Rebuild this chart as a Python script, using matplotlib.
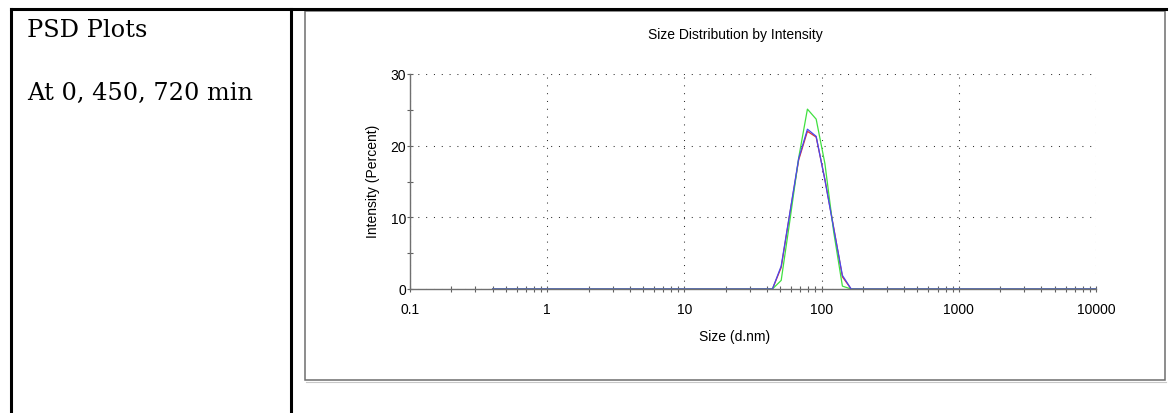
import matplotlib
matplotlib.use("Agg")
import matplotlib.pyplot as plt
from matplotlib.lines import Line2D
from matplotlib.patches import Rectangle
from matplotlib.ticker import LogLocator, FixedLocator, NullFormatter, FuncFormatter

# Zetasizer size classes (d.nm)
sizes = [
    0.4000, 0.4632, 0.5365, 0.6213, 0.7195, 0.8332, 0.9649,
    1.117, 1.294, 1.499, 1.736, 2.010, 2.328, 2.696, 3.122, 3.615,
    4.187, 4.849, 5.615, 6.503, 7.531, 8.721,
    10.10, 11.70, 13.54, 15.69, 18.17, 21.04, 24.36, 28.21, 32.67, 37.84,
    43.82, 50.75, 58.77, 68.06, 78.82, 91.28,
    105.7, 122.4, 141.8, 164.2, 190.1, 220.2, 255.0, 295.3, 342.0, 396.1,
    458.7, 531.2, 615.1, 712.4, 825.0, 955.4,
    1106, 1281, 1484, 1718, 1990, 2305, 2669, 3091, 3580, 4145,
    4801, 5560, 6439, 7456, 8635, 10000,
]

# intensity (%) per size class for the three records
int_0min = [
    0, 0, 0, 0, 0, 0, 0, 0, 0, 0, 0, 0, 0, 0, 0, 0, 0, 0, 0, 0, 0, 0,
    0, 0, 0, 0, 0, 0, 0, 0, 0, 0, 0,
    3.0, 10.6, 18.0, 22.0, 21.2, 15.3, 8.6, 1.7,
    0, 0, 0, 0, 0, 0, 0, 0, 0, 0, 0, 0, 0, 0, 0, 0, 0, 0, 0, 0, 0,
    0, 0, 0, 0, 0, 0, 0, 0,
]
int_450min = [
    0, 0, 0, 0, 0, 0, 0, 0, 0, 0, 0, 0, 0, 0, 0, 0, 0, 0, 0, 0, 0, 0,
    0, 0, 0, 0, 0, 0, 0, 0, 0, 0, 0,
    1.2, 9.6, 18.3, 25.1, 23.7, 17.5, 8.0, 0.4,
    0, 0, 0, 0, 0, 0, 0, 0, 0, 0, 0, 0, 0, 0, 0, 0, 0, 0, 0, 0, 0,
    0, 0, 0, 0, 0, 0, 0, 0,
]
int_720min = [
    0, 0, 0, 0, 0, 0, 0, 0, 0, 0, 0, 0, 0, 0, 0, 0, 0, 0, 0, 0, 0, 0,
    0, 0, 0, 0, 0, 0, 0, 0, 0, 0, 0,
    3.2, 10.7, 18.2, 22.3, 21.3, 15.2, 8.5, 1.9,
    0, 0, 0, 0, 0, 0, 0, 0, 0, 0, 0, 0, 0, 0, 0, 0, 0, 0, 0, 0, 0,
    0, 0, 0, 0, 0, 0, 0, 0,
]

x_ticks = [0.1, 1, 10, 100, 1000, 10000]
x_ticklabels = ["0.1", "1", "10", "100", "1000", "10000"]
y_ticks = [0, 10, 20, 30]

W, H = 1169, 414
fig = plt.figure(figsize=(W / 100, H / 100), dpi=100)


def fx(px):
    return px / W


def fy(py):
    return 1 - py / H


# table borders
black = dict(color="black", linewidth=2.2, solid_capstyle="projecting")
fig.add_artist(Line2D([fx(11), fx(1166)], [fy(10), fy(10)], **black))
fig.add_artist(Line2D([fx(11), fx(11)], [fy(10), fy(416)], **black))
fig.add_artist(Line2D([fx(291), fx(291)], [fy(10), fy(416)], **black))

# left cell text
serif = dict(family="DejaVu Serif", fontsize=17.3, color="black", va="baseline", ha="left")
fig.text(fx(27), fy(37), "PSD Plots", **serif)
fig.text(fx(27), fy(100), "At 0, 450, 720 min", **serif)

# chart frame
fig.add_artist(Rectangle((fx(305), fy(381)), fx(1165) - fx(305), fy(12) - fy(381),
                         transform=fig.transFigure, fill=False,
                         edgecolor="#6e6e6e", linewidth=1.1))
fig.add_artist(Line2D([fx(306), fx(1166)], [fy(382.5), fy(382.5)],
                      color="#c8c8c8", linewidth=0.8))

ax = fig.add_axes([fx(410), fy(290), fx(1096) - fx(410), fy(75) - fy(290)])

ax.plot(sizes, int_0min, color="#e03030", linewidth=0.9, clip_on=False, zorder=2)
ax.plot(sizes, int_450min, color="#40e040", linewidth=0.9, clip_on=False, zorder=2.1)
ax.plot(sizes, int_720min, color="#4848f0", linewidth=0.9, clip_on=False, zorder=2.2)

ax.set_xscale("log")
ax.set_xlim(0.1, 10000)
ax.set_ylim(0, 30)

ax.xaxis.set_major_locator(FixedLocator(x_ticks))
ax.xaxis.set_major_formatter(FuncFormatter(lambda v, p: x_ticklabels[x_ticks.index(v)] if v in x_ticks else ""))
ax.xaxis.set_minor_locator(LogLocator(base=10, subs=range(2, 10), numticks=20))
ax.xaxis.set_minor_formatter(NullFormatter())
ax.yaxis.set_major_locator(FixedLocator(y_ticks))
ax.yaxis.set_minor_locator(FixedLocator([5, 15, 25]))

ax.grid(True, which="major", color="#303030", linewidth=0.75,
        linestyle=(0, (1, 6.5)))

for side in ("top", "right"):
    ax.spines[side].set_visible(False)
for side in ("left", "bottom"):
    ax.spines[side].set_color("#707070")
    ax.spines[side].set_linewidth(1.0)

ax.tick_params(axis="both", which="both", direction="inout", length=4.5,
               width=0.8, color="#606060", labelcolor="black",
               labelsize=10)
ax.tick_params(axis="x", which="major", pad=7)
ax.tick_params(axis="y", which="major", pad=0.5)
for lab in ax.get_xticklabels() + ax.get_yticklabels():
    lab.set_family("Liberation Sans")

sans = dict(family="Liberation Sans", fontsize=10, color="black")
fig.text(fx(735), fy(35), "Size Distribution by Intensity", ha="center", va="center", **sans)
fig.text(fx(735), fy(337), "Size (d.nm)", ha="center", va="center", **sans)
fig.text(fx(373), fy(181), "Intensity (Percent)", ha="center", va="center",
         rotation=90, **sans)

fig.savefig("out.png", dpi=100)
